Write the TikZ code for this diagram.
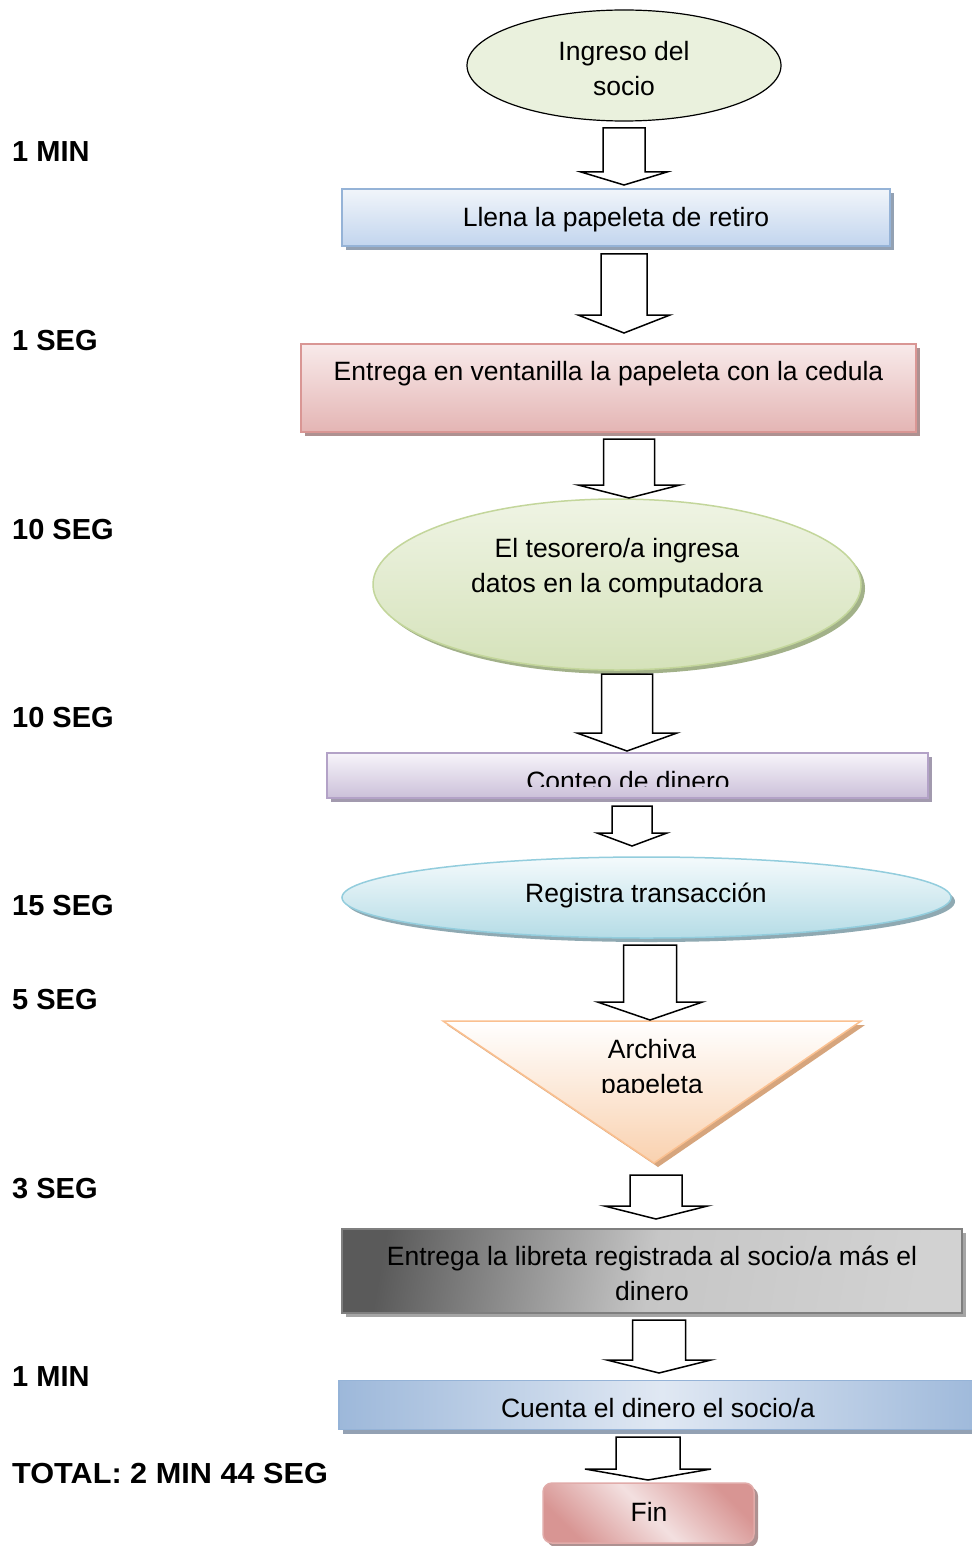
\documentclass[tikz,border=0pt]{standalone}
\usepackage{fontspec}
\setmainfont{Liberation Sans}
\usetikzlibrary{shapes.geometric}
\definecolor{grnA}{HTML}{EAF1DD}
\definecolor{bluT}{HTML}{F1F5FA}
\definecolor{bluB}{HTML}{C2D5EE}
\definecolor{bluD}{HTML}{95B3D7}
\definecolor{bluS}{HTML}{93A1B3}
\definecolor{pnkT}{HTML}{F8EAEA}
\definecolor{pnkB}{HTML}{E4B5B4}
\definecolor{pnkD}{HTML}{D99694}
\definecolor{pnkS}{HTML}{AE9191}
\definecolor{grnT}{HTML}{EFF4E4}
\definecolor{grnB}{HTML}{D5E2BA}
\definecolor{grnD}{HTML}{C3D69B}
\definecolor{grnS}{HTML}{A2B189}
\definecolor{purT}{HTML}{F7F4FA}
\definecolor{purB}{HTML}{CBC0D9}
\definecolor{purD}{HTML}{B3A2C7}
\definecolor{purS}{HTML}{A29AAE}
\definecolor{cyaT}{HTML}{F4FAFC}
\definecolor{cyaB}{HTML}{B5DCE6}
\definecolor{cyaD}{HTML}{93CDDD}
\definecolor{cyaS}{HTML}{8FA9B2}
\definecolor{orgT}{HTML}{FFFFFF}
\definecolor{orgB}{HTML}{F9D1AF}
\definecolor{orgD}{HTML}{FAC090}
\definecolor{orgS}{HTML}{D6A57D}
\definecolor{gryL}{HTML}{5A5A5A}
\definecolor{gryM}{HTML}{C6C6C6}
\definecolor{gryR}{HTML}{D2D2D2}
\definecolor{gryD}{HTML}{7F7F7F}
\definecolor{gryS}{HTML}{A5A5A5}
\definecolor{cueE}{HTML}{9DB8DA}
\definecolor{cueM}{HTML}{E0E8F3}
\definecolor{finD}{HTML}{D89593}
\definecolor{finL}{HTML}{F3E0E0}
\tikzset{
  body/.style={font=\fontsize{26.5}{35}\selectfont, align=center, inner sep=0pt, text=black},
  timelbl/.style={font=\fontsize{29}{35}\selectfont\bfseries, anchor=base west, inner sep=0pt},
  blockarrow/.style={draw=black, line width=1.5pt, fill=white, miter limit=10},
  shape box/.style={draw=#1, line width=1.5pt, inner sep=0pt},
  shadowed/.style={preaction={fill=#1, transform canvas={xshift=4pt,yshift=-4pt}}},
}
\newcommand\blkarrow[6]{%
  \draw[blockarrow] ({#1-#3},#2) -- ({#1+#3},#2) -- ({#1+#3},#4) -- ({#1+#5},#4)
    -- (#1,#6) -- ({#1-#5},#4) -- ({#1-#3},#4) -- cycle;}
\begin{document}
\begin{tikzpicture}[x=1pt,y=-1pt]
\useasboundingbox (0,0) rectangle (971,1546);
\fill[white] (0,0) rectangle (971,1546);

% time labels
\node[timelbl] (l1) at (12,162) {1 MIN};
\node[timelbl] (l2) at (12,350) {1 SEG};
\node[timelbl] (l3) at (12,539) {10 SEG};
\node[timelbl] (l4) at (12,727) {10 SEG};
\node[timelbl] (l5) at (12,915) {15 SEG};
\node[timelbl] (l6) at (12,1009) {5 SEG};
\node[timelbl] (l7) at (12,1198) {3 SEG};
\node[timelbl] (l8) at (12,1386) {1 MIN};
\node[timelbl] (l9) at (12,1483) {\scalebox{1.057}[1]{TOTAL: 2 MIN 44 SEG}};

% shapes
\node[ellipse, draw=black, line width=1.2pt, fill=grnA, minimum width=314, minimum height=111, inner sep=0pt] (n1) at (624,65.5) {};
\node[body] (t1) at (624,69) {Ingreso del\\socio};

\node[shape box=bluD, shadowed=bluS, top color=bluT, bottom color=bluB, minimum width=548, minimum height=57] (n2) at (616,217.5) {};
\node[body] (t2) at (616,219.5) {Llena la papeleta de retiro};

\node[shape box=pnkD, shadowed=pnkS, top color=pnkT, bottom color=pnkB, minimum width=615, minimum height=88] (n3) at (608.5,388) {};
\node[body] (t3) at (608.5,373.5) {Entrega en ventanilla la papeleta con la cedula};

\node[ellipse, shape box=grnD, shadowed=grnS, top color=grnT, bottom color=grnB, minimum width=488, minimum height=171] (n4) at (617,584.5) {};
\node[body] (t4) at (617,568) {El tesorero/a ingresa\\datos en la computadora};

\node[shape box=purD, shadowed=purS, top color=purT, bottom color=purB, minimum width=601, minimum height=45] (n5) at (627.5,775.5) {};
\begin{scope}
\clip (300,740) rectangle (950,786);
\node[body] (t5) at (628,781) {Conteo de dinero};
\end{scope}

\node[ellipse, shape box=cyaD, shadowed=cyaS, top color=cyaT, bottom color=cyaB, minimum width=609, minimum height=81] (n6) at (646.5,897.5) {};
\node[body] (t6) at (646,895.5) {Registra transacción};

\path[draw=orgD, line width=1.5pt, shadowed=orgS, top color=orgT, bottom color=orgB]
  (443,1021) -- (861,1021) -- (654,1163) -- cycle;
\coordinate (n7) at (654,1070);
\begin{scope}
\clip (450,1025) rectangle (860,1092);
\node[body] (t7) at (652,1069) {Archiva\\papeleta};
\end{scope}

\node[shape box=gryD, shadowed=gryS, left color=gryL, right color=gryR, middle color=gryM, shading angle=80, minimum width=620, minimum height=84] (n8) at (652,1271) {};
\node[body] (t8) at (652,1273.5) {Entrega la libreta registrada al socio/a más el\\dinero};

\node[shape box=bluD, shadowed=bluS, left color=cueE, right color=cueE, middle color=cueM, minimum width=646, minimum height=49] (n9) at (662,1405) {};
\node[body] (t9) at (658,1408) {Cuenta el dinero el socio/a};

\node[shape box=pnkD!80, shadowed=pnkS, rounded corners=9pt, top color=finD, bottom color=finD, middle color=finL, shading angle=-45, minimum width=211, minimum height=60] (n10) at (648.5,1513) {};
\node[body] (t10) at (649,1512) {Fin};

% block arrows
\blkarrow{624}{128}{21}{172}{43}{185}
\blkarrow{624}{254}{23}{315}{46}{333}
\blkarrow{629}{439}{25.5}{485}{51}{498}
\blkarrow{627}{674}{25.5}{733}{50}{751}
\blkarrow{632}{806}{20}{833}{35}{846}
\blkarrow{650}{945}{26.5}{1002}{52.5}{1020}
\blkarrow{656}{1175}{26}{1206}{51.5}{1219}
\blkarrow{659}{1320}{26.5}{1360}{52}{1373}
\blkarrow{648}{1437}{32}{1469}{63}{1480}
\end{tikzpicture}
\end{document}
